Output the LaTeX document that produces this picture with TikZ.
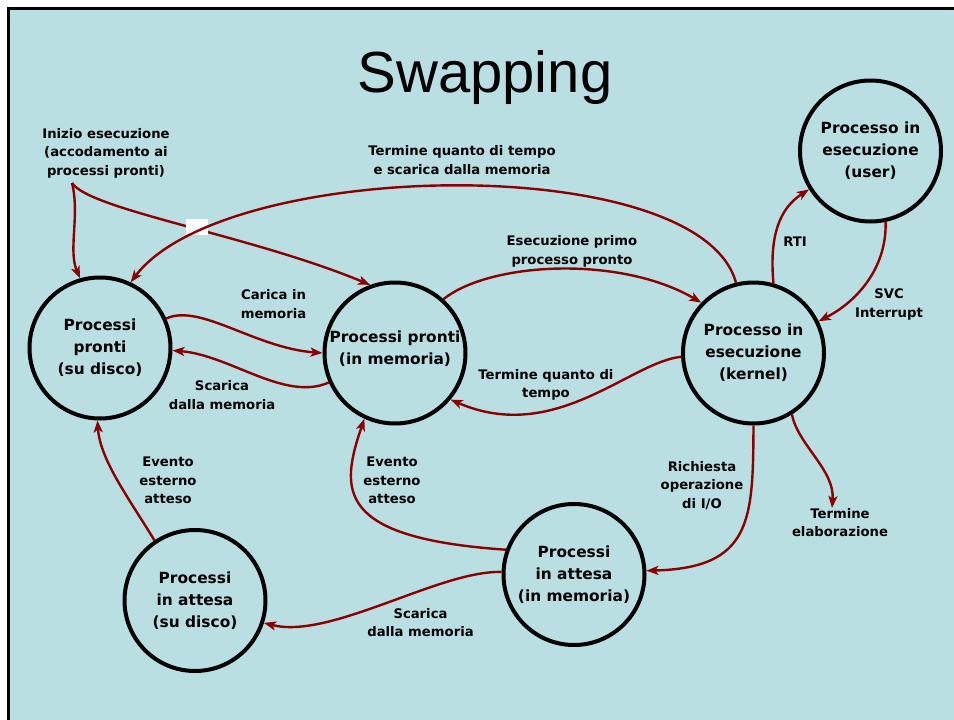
\documentclass[tikz,border=0pt]{standalone}
\usepackage{fontspec}
\setmainfont{DejaVu Sans}
\newfontfamily\titlefont{Liberation Sans}
\usetikzlibrary{arrows.meta}
\definecolor{slidebg}{HTML}{B9DFE3}
\definecolor{flow}{HTML}{8B0000}
\begin{document}
\begin{tikzpicture}[x=1pt,y=-1pt,
  state/.style={circle, draw=black, line width=4pt, minimum size=141pt,
    inner sep=0pt, align=center, font=\bfseries\fontsize{15.4}{22}\selectfont},
  statetext/.style={inner sep=0pt, align=center,
    font=\bfseries\fontsize{15.4}{22}\selectfont},
  lbl/.style={align=center, inner sep=0pt,
    font=\bfseries\fontsize{13.2}{18.6}\selectfont},
  trans/.style={draw=flow, line width=2.4pt,
    -{Stealth[length=12pt,width=9pt,inset=3pt]}},
]
\useasboundingbox (0,0) rectangle (954,720);
% slide background and frame
\fill[slidebg] (8.7,8.7) rectangle (954,720);
\draw[line width=2.5pt] (8.7,720) -- (8.7,8.7) -- (954,8.7);

% title
\node[anchor=base, inner sep=0pt, font=\titlefont\fontsize{58}{60}\selectfont] (title) at (485,92) {Swapping};

% states
\node[state] (n1) at (100,348) {Processi\\pronti\\(su disco)};
\node[state] (n2) at (395,353) {};
\node[statetext] (n2t) at (395,348.5) {Processi pronti\\(in memoria)};
\node[state] (n3) at (753.5,353) {Processo in\\esecuzione\\(kernel)};
\node[state] (n4) at (870.5,151) {Processo in\\esecuzione\\(user)};
\node[state] (n5) at (574,574.5) {Processi\\in attesa\\(in memoria)};
\node[state] (n6) at (195,600.5) {Processi\\in attesa\\(su disco)};

% labels
\node[lbl] (linizio) at (106,153) {Inizio esecuzione\\(accodamento ai\\processi pronti)};
\node[lbl] (lquanto) at (462,160) {Termine quanto di tempo\\e scarica dalla memoria};
\node[lbl] (lprimo) at (572,251.5) {Esecuzione primo\\processo pronto};
\node[lbl] (lrti) at (795,242) {RTI};
\node[lbl] (lsvc) at (889,304.5) {SVC\\Interrupt};
\node[lbl] (lcarica) at (273.5,304) {Carica in\\memoria};
\node[lbl] (lscarica) at (222,395) {Scarica\\dalla memoria};
\node[lbl] (ltermine) at (546,385) {Termine quanto di\\tempo};
\node[lbl] (lio) at (702,485.5) {Richiesta\\operazione\\di I/O};
\node[lbl] (lfine) at (840,522.5) {Termine\\elaborazione};
\node[lbl] (levento) at (168,480.5) {Evento\\esterno\\atteso};
\node[lbl] (levento2) at (392,480.5) {Evento\\esterno\\atteso};
\node[lbl] (lscarica2) at (420.5,622.5) {Scarica\\dalla memoria};

% free ends
\coordinate (start) at (72,183);
\coordinate (fine) at (832,508);

% transitions
\draw[trans] (start) .. controls (80,215) and (68,250) .. (n1.106);
\draw[trans] (start) .. controls (90,210) and (250,235) .. (n2.110);
\node[fill=white, minimum width=22pt, minimum height=16pt, inner sep=0pt] (gap) at (197,227) {};
\draw[trans] (n3.104) .. controls (700,150) and (225,158) .. (n1.65);
\draw[trans] (n2.48) .. controls (490,262) and (620,255) .. (n3.136);
\draw[trans] (n3.74) .. controls (769,235) and (780,208) .. (n4.212);
\draw[trans] (n4.282) .. controls (887,265) and (860,300) .. (n3.26);
\draw[trans] (n1.24) .. controls (200,303) and (255,348) .. (n2.180);
\draw[trans] (n2.204) .. controls (285,402) and (230,355) .. (n1.358);
\draw[trans] (n3.183) .. controls (630,362) and (555,445) .. (n2.320);
\draw[trans] (n3.270) .. controls (753,520) and (752,568) .. (n5.3);
\draw[trans] (n3.302) .. controls (798,445) and (835,470) .. (fine);
\draw[trans] (n6.124) .. controls (130,500) and (100,460) .. (n1.268);
\draw[trans] (n5.160) .. controls (335,538) and (340,490) .. (n2.245);
\draw[trans] (n5.178) .. controls (440,570) and (330,640) .. (n6.342);
\end{tikzpicture}
\end{document}
